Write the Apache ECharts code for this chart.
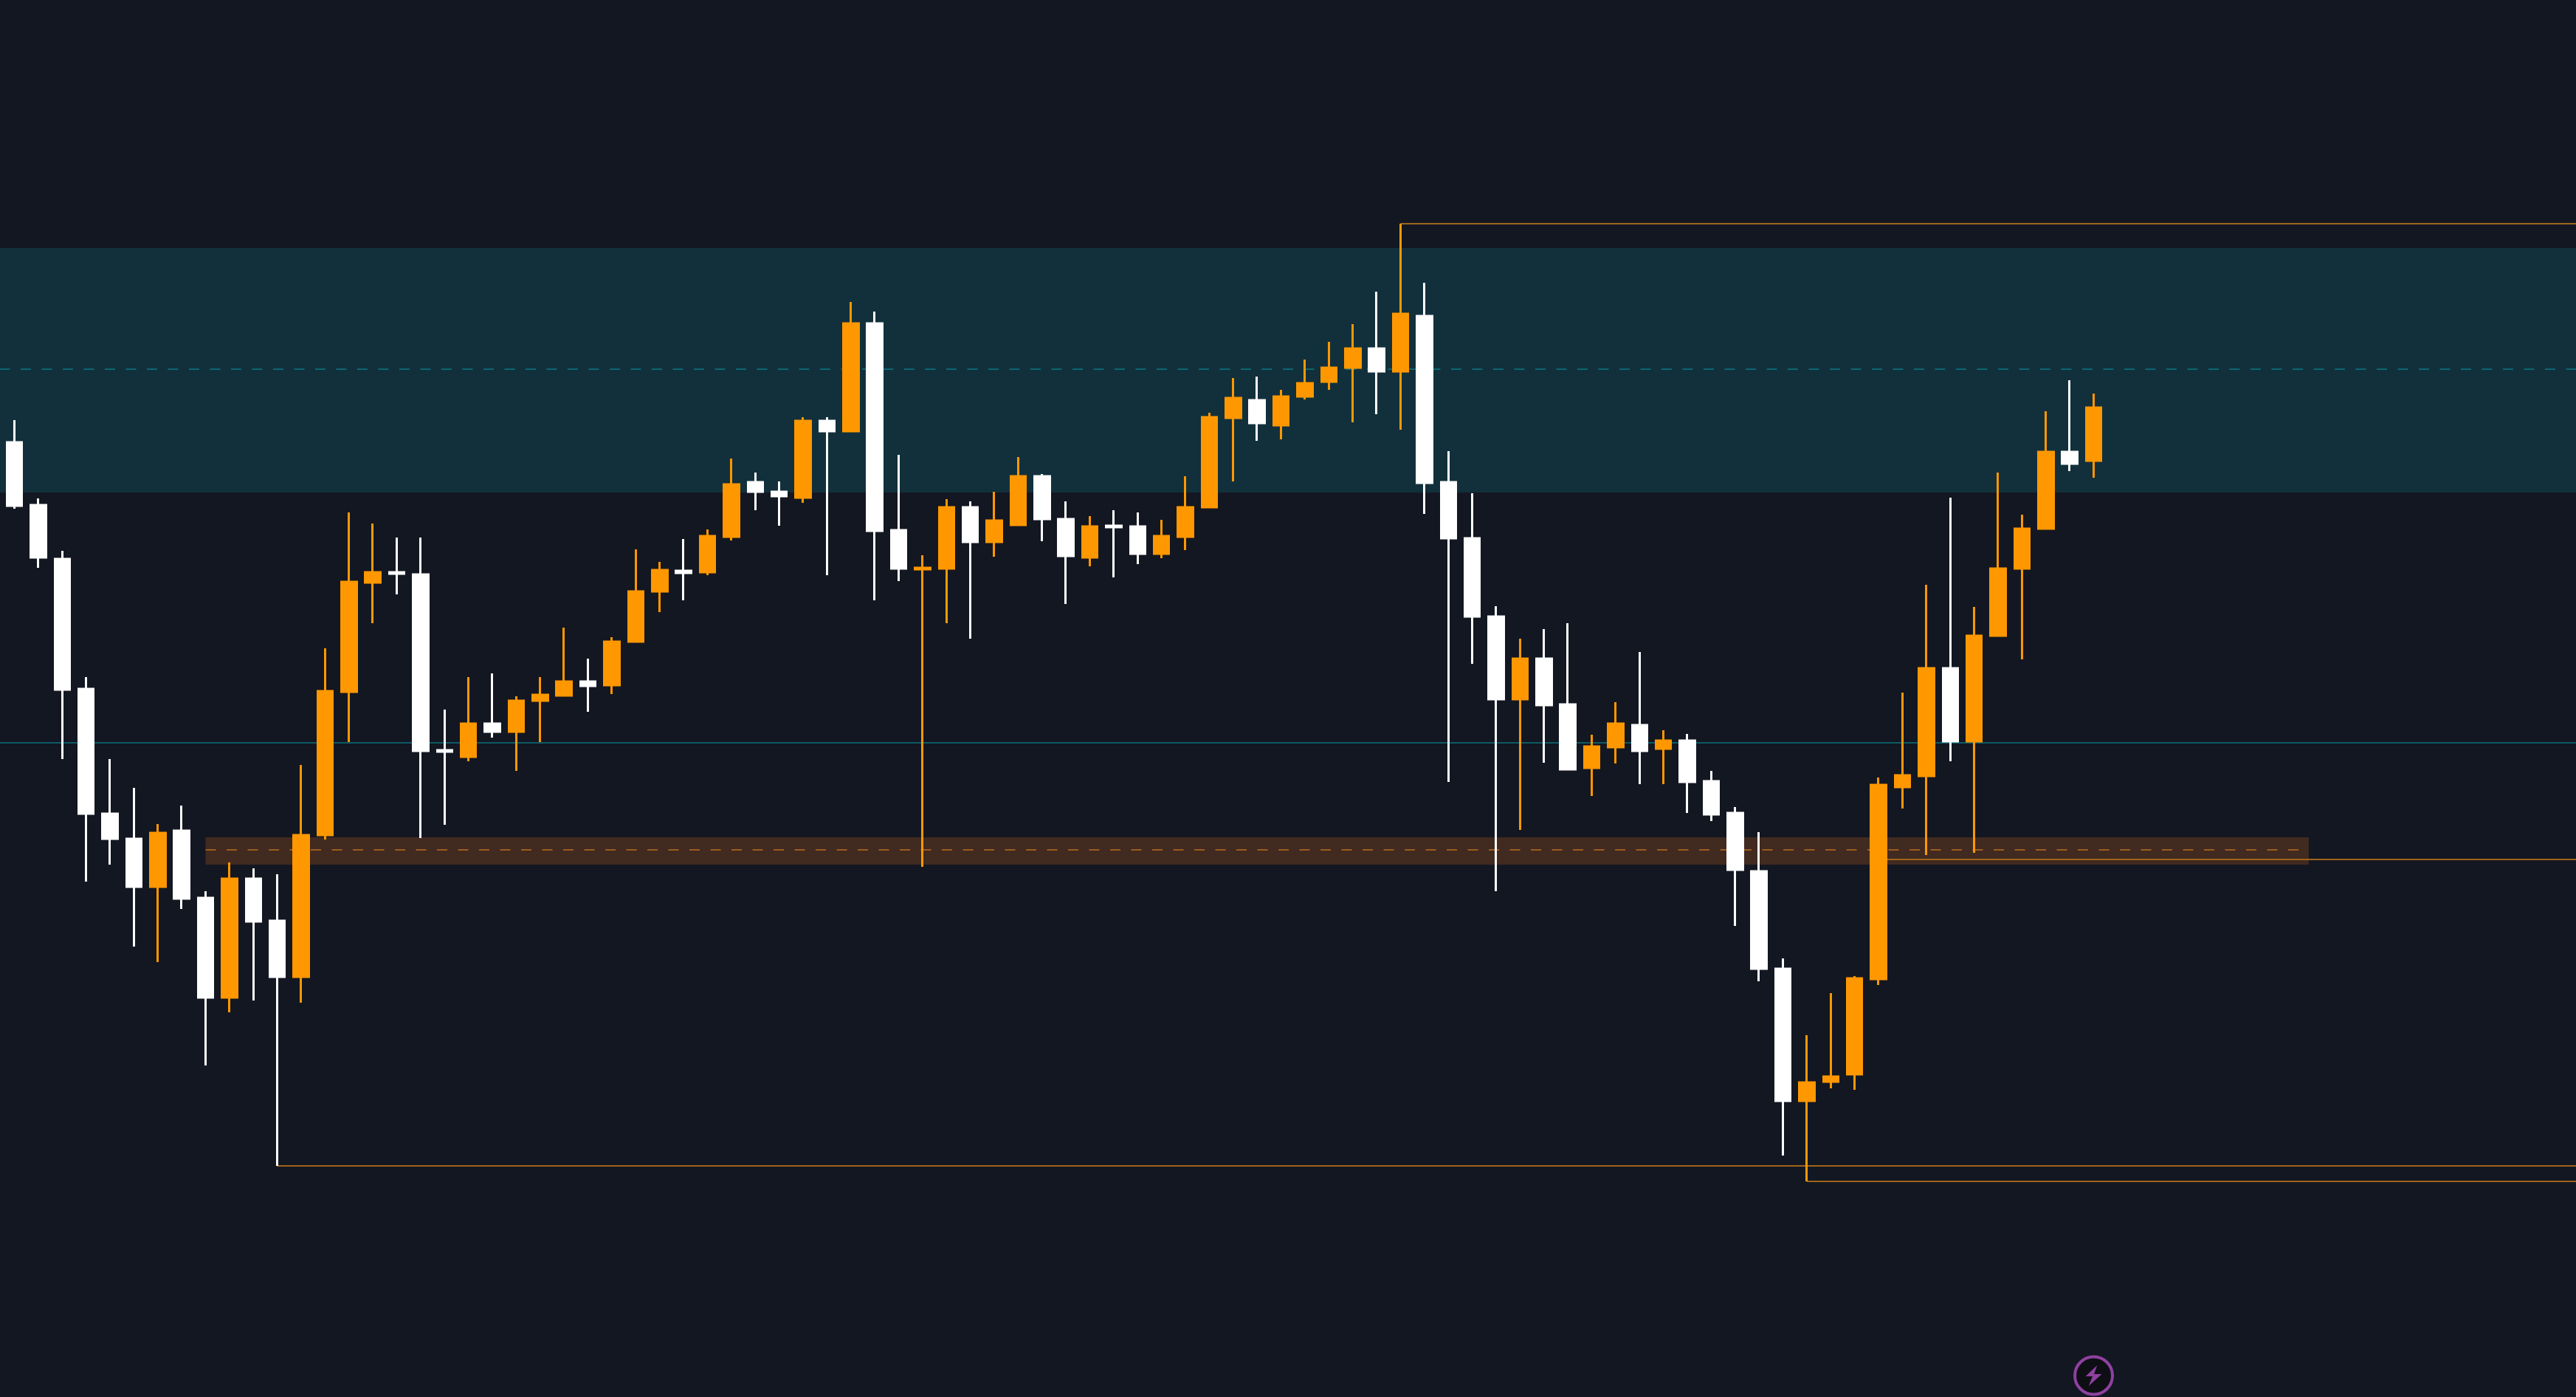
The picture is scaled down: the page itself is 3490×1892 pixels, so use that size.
<!DOCTYPE html>
<html>
<head>
<meta charset="utf-8">
<title>Candles</title>
<script src="https://cdn.jsdelivr.net/npm/echarts@6/dist/echarts.min.js"></script>
<style>
  html, body { margin: 0; padding: 0; background: #131722; }
  #chart { width: 3490px; height: 1892px; }
</style>
</head>
<body>
<div id="chart"></div>
<script>
// price series
const opens = [1293,1208,1135,959,790,756,691,767,676,541,702,645,569,761,955,1103,1117,1114,876,867,912,901,943,950,969,964,1023,1091,1119,1117,1165,1239,1226,1218,1322,1308,1454,1174,1121,1122,1205,1158,1181,1247,1189,1137,1180,1179,1142,1165,1205,1326,1350,1316,1355,1375,1394,1420,1389,1464,1239,1163,1057,945,1000,938,852,880,910,878,889,834,791,712,580,401,427,437,566,826,841,987,888,1031,1122,1176,1280,1268]
const closes = [1207,1137,958,790,756,691,764,675,541,702,644,569,761,956,1104,1117,1115,875,874,912,901,943,951,969,963,1023,1091,1120,1116,1166,1236,1226,1220,1322,1308,1454,1173,1122,1123,1205,1158,1187,1247,1189,1139,1179,1178,1142,1166,1205,1327,1353,1319,1355,1373,1394,1420,1389,1467,1238,1163,1057,945,1000,937,850,881,912,875,889,833,789,714,580,401,426,434,567,829,842,987,888,1031,1122,1176,1280,1264,1340]
const lows = [1203,1123,864,698,721,610,589,661,449,521,537,313,534,755,887,1048,1087,757,775,861,893,848,887,949,928,952,1022,1063,1079,1113,1160,1201,1180,1211,1113,1307,1079,1105,718,1048,1027,1138,1180,1159,1074,1125,1110,1128,1136,1147,1204,1240,1295,1297,1351,1364,1320,1331,1310,1196,833,993,685,768,859,849,814,858,830,830,791,780,638,563,327,292,418,416,558,797,734,861,737,1030,999,1175,1254,1245]
const highs = [1323,1217,1146,975,864,825,776,801,685,724,716,708,856,1014,1198,1183,1164,1164,931,975,980,949,975,1042,1000,1029,1148,1131,1162,1175,1271,1252,1240,1327,1327,1483,1470,1276,1140,1216,1213,1226,1273,1250,1213,1193,1201,1198,1188,1247,1333,1380,1382,1364,1405,1429,1453,1497,1589,1509,1281,1224,1071,1027,1040,1048,897,941,1009,903,898,848,799,765,594,490,547,570,839,954,1100,1218,1070,1252,1195,1335,1377,1359]

// levels drawn behind the candles
const resistanceZone = [1225, 1556]
const resistanceMid = 1392
const pivotLevel = 886
const supportZone = [721, 758]
const supportMid = 741
const supportZoneBars = [9, 97]
const swingLevels = [[59, 1589], [12, 313], [76, 292], [79, 728]]
const boltMarker = [88, 29]

const lastBar = 109
const categories = []
for (let i = 0; i <= lastBar; i++) categories.push(String(i))

const orange = '#FF9800'
const white = '#FFFFFF'

const chart = echarts.init(document.getElementById('chart'), null, { renderer: 'canvas' })

const option = {
  backgroundColor: '#131722',
  animation: false,
  // one blank bar on the left so the zones reach the edge of the page
  grid: { left: -29.07, right: -42.7, top: 0, bottom: 0, outerBoundsMode: 'none' },
  xAxis: {
    type: 'category',
    data: categories,
    show: false
  },
  yAxis: {
    type: 'value',
    min: 0,
    max: 1892,
    show: false
  },
  series: [
    {
      name: 'candles',
      type: 'candlestick',
      z: 3,
      barWidth: 21,
      itemStyle: {
        color: orange,
        borderColor: orange,
        color0: white,
        borderColor0: white,
        borderWidth: 3
      },
      data: ['-'].concat(opens.map((o, i) => [o, closes[i], lows[i], highs[i]])),
      markArea: {
        silent: true,
        z: 0,
        data: [
          [
            { yAxis: resistanceZone[0], itemStyle: { color: '#12303C' } },
            { yAxis: resistanceZone[1] }
          ],
          [
            { coord: [supportZoneBars[0], supportZone[0]], itemStyle: { color: '#412A20' } },
            { coord: [supportZoneBars[1], supportZone[1]] }
          ]
        ]
      },
      markLine: {
        silent: true,
        z: 1,
        symbol: 'none',
        label: { show: false },
        data: [
          { yAxis: resistanceMid, lineStyle: { color: '#0B6670', width: 2, type: [14, 14.5] } },
          { yAxis: pivotLevel, lineStyle: { color: '#0E5A66', width: 2, type: 'solid' } },
          [
            { coord: [supportZoneBars[0], supportMid], lineStyle: { color: '#9C5C20', width: 2, type: [14, 14.5] } },
            { coord: [supportZoneBars[1], supportMid] }
          ]
        ].concat(swingLevels.map(l => [
          { coord: [l[0], l[1]], lineStyle: { color: '#A0651A', width: 2, type: 'solid' } },
          { coord: [lastBar, l[1]] }
        ]))
      }
    },
    {
      name: 'alert',
      type: 'scatter',
      z: 4,
      silent: true,
      symbol: 'circle',
      symbolSize: 51,
      itemStyle: { color: '#0D0E12', borderColor: '#AF4CC2', borderWidth: 4 },
      data: [boltMarker]
    },
    {
      name: 'alert bolt',
      type: 'scatter',
      z: 5,
      silent: true,
      symbol: 'path://M16 0 L1 15 H10 L5 28 L22 12 H12 Z',
      symbolSize: [22, 28],
      itemStyle: { color: '#AF4CC2' },
      data: [boltMarker]
    }
  ]
}

chart.setOption(option)
window.addEventListener('resize', () => chart.resize())
</script>
</body>
</html>
